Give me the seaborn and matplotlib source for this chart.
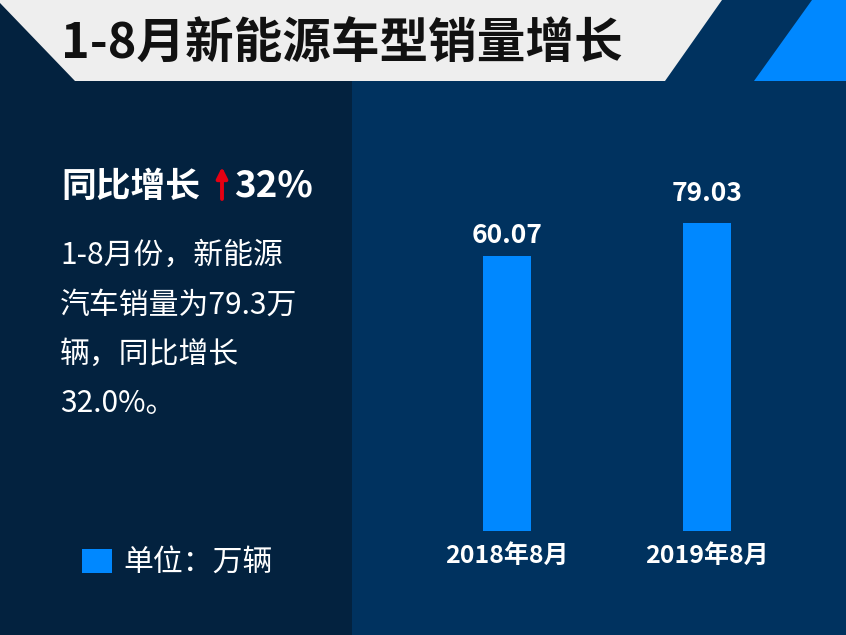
import matplotlib.pyplot as plt
from matplotlib.patches import Polygon, Rectangle
import pandas as pd
import seaborn as sns

# chart data
title = '1-8月新能源车型销量增长'
periods = ['2018年8月', '2019年8月']
sales = [60.07, 79.03]  # 万辆
headline = '同比增长'
growth_label = '32%'
summary_lines = ['1-8月份，新能源', '汽车销量为79.3万', '辆，同比增长', '32.0%。']
unit_label = '单位：万辆'

# colours
LEFT_BG = '#03223f'
RIGHT_BG = '#00325f'
BAR_BLUE = '#0088ff'

sns.set_theme(style='white')
plt.rcParams['font.family'] = ['Noto Sans CJK SC', 'DejaVu Sans']

W, H = 846, 635
fig = plt.figure(figsize=(W / 100, H / 100), dpi=100)

# background layer in pixel coordinates
bg = fig.add_axes([0, 0, 1, 1])
bg.set_xlim(0, W)
bg.set_ylim(H, 0)
bg.axis('off')
bg.add_patch(Rectangle((0, 0), 352, H, color=LEFT_BG, lw=0))
bg.add_patch(Rectangle((352, 0), W - 352, H, color=RIGHT_BG, lw=0))
bg.add_patch(Polygon([(0, 0), (722, 0), (665, 81), (75, 81), (0, 3)], color='#eeeeee', lw=0))
bg.add_patch(Polygon([(812, 0), (W, 0), (W, 81), (754, 81)], color=BAR_BLUE, lw=0))

bg.text(342, 44, title, fontsize=35, fontweight='black', color='#111111',
        ha='center', va='center')

# left side text block
bg.text(61, 186, headline, fontsize=25, fontweight='bold', color='white', va='center')
# red up arrow drawn as a patch
bg.annotate('', xy=(222, 167), xytext=(222, 199),
            arrowprops=dict(arrowstyle='-|>', color='#e60012', lw=2.8,
                            mutation_scale=16, shrinkA=0, shrinkB=0))
bg.text(234, 186, growth_label, fontsize=26.5, fontweight='bold', color='white', va='center')

for i, line in enumerate(summary_lines):
    bg.text(60, 264 + i * 49.5, line, fontsize=21.5, color='white', va='baseline')

bg.add_patch(Rectangle((82, 549), 30, 24, color=BAR_BLUE, lw=0))
bg.text(123, 562, unit_label, fontsize=21.5, color='white', va='center')

# bar chart
ax = fig.add_axes([352 / W, (H - 531) / H, (W - 352) / W, (531 - 150) / H])
df = pd.DataFrame({'period': periods, 'sales': sales})
sns.barplot(data=df, x='period', y='sales', color=BAR_BLUE, saturation=1,
            width=0.24, linewidth=0, ax=ax)
ax.set_yscale('log')
ax.set_ylim(6.23, 143.7)
ax.set_xlim(-0.775, 1.695)
ax.patch.set_alpha(0)
for s in ax.spines.values():
    s.set_visible(False)
ax.set_xlabel('')
ax.set_ylabel('')
ax.tick_params(axis='y', which='both', left=False, labelleft=False)
ax.tick_params(axis='x', length=0, pad=9, labelsize=18, labelcolor='white')
for lbl in ax.get_xticklabels():
    lbl.set_fontweight('bold')

# value labels above each bar
label_pads = [5, 11]
for bar, v, pad in zip(ax.patches, sales, label_pads):
    ax.annotate(f'{v:.2f}', (bar.get_x() + bar.get_width() / 2, bar.get_height()),
                xytext=(0, pad), textcoords='offset points', ha='center', va='bottom',
                fontsize=19, fontweight='bold', color='white')

fig.savefig('out.png', dpi=100)
